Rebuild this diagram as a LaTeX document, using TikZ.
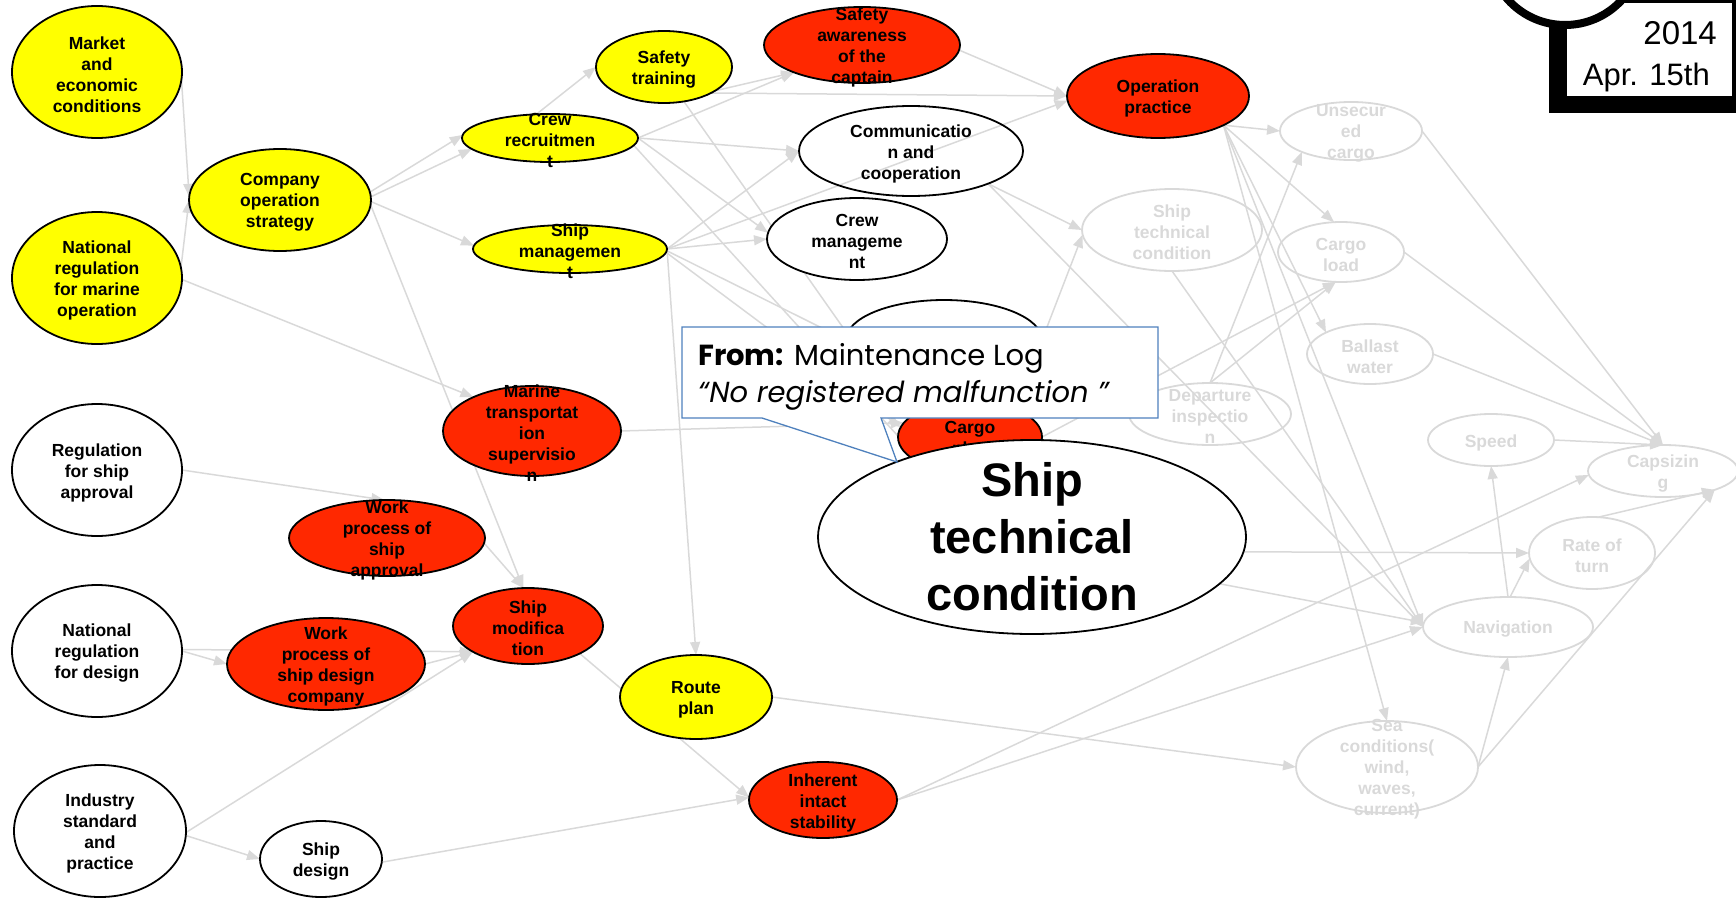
\documentclass[tikz,border=0pt]{standalone}
\usepackage{fontspec}
\setmainfont{Liberation Sans}
\newfontfamily\callfont{Poppins}
\usetikzlibrary{arrows.meta,shapes.geometric}
\pgfdeclarelayer{background}
\pgfsetlayers{background,main}

\definecolor{nodeyellow}{RGB}{255,255,0}
\definecolor{nodered}{RGB}{255,40,0}
\definecolor{edgegray}{RGB}{217,217,217}
\definecolor{calloutblue}{RGB}{79,129,189}

\tikzset{
  rr/.style 2 args={ellipse, inner sep=0pt, outer sep=0pt,
    minimum width={2*#1pt}, minimum height={2*#2pt}},
  bub/.style={draw=black, line width=1.8pt},
  yel/.style={bub, fill=nodeyellow},
  redn/.style={bub, fill=nodered},
  wht/.style={bub, fill=white},
  hol/.style={bub},
  gry/.style={draw=edgegray, line width=1.8pt},
  lbl/.style={align=center, inner sep=0pt, yshift=-2.5pt,
    font=\bfseries\fontsize{17.5}{21}\selectfont},
  glbl/.style={lbl, text=edgegray},
  link/.style={draw=edgegray, line width=1.5pt,
    -{Triangle[length=13pt,width=10pt]}},
}

\begin{document}
\begin{tikzpicture}[x=1pt,y=-1pt]
\useasboundingbox (0,0) rectangle (1736,899);

% ---------- left and middle causal factors ----------
\node[yel,rr={85}{66}] (mkt) at (97,72) {};
\node[lbl] (mkt-t) at (mkt) {Market\\and\\economic\\conditions};
\node[yel,rr={91}{51}] (cos) at (280,200) {};
\node[lbl] (cos-t) at (cos) {Company\\operation\\strategy};
\node[yel,rr={85}{66}] (nrm) at (97,278) {};
\node[lbl] (nrm-t) at (nrm) {National\\regulation\\for marine\\operation};
\node[wht,rr={85}{66}] (rsa) at (97,470) {};
\node[lbl] (rsa-t) at (rsa) {Regulation\\for ship\\approval};
\node[wht,rr={85}{66}] (nrd) at (97,651) {};
\node[lbl] (nrd-t) at (nrd) {National\\regulation\\for design};
\node[wht,rr={86}{66}] (isp) at (100,831) {};
\node[lbl] (isp-t) at (isp) {Industry\\standard\\and\\practice};
\node[wht,rr={61}{38}] (sd) at (321,859) {};
\node[lbl] (sd-t) at (sd) {Ship\\design};
\node[redn,rr={98}{38}] (wpa) at (387,538) {};
\node[lbl] (wpa-t) at (wpa) {Work\\process of\\ship\\approval};
\node[redn,rr={99}{46}] (wpd) at (326,664) {};
\node[lbl] (wpd-t) at (wpd) {Work\\process of\\ship design\\company};
\node[redn,rr={89}{45}] (mts) at (532,431) {};
\node[lbl] (mts-t) at (mts) {Marine\\transportat\\ion\\supervisio\\n};
\node[redn,rr={75}{38}] (smod) at (528,626) {};
\node[lbl] (smod-t) at (smod) {Ship\\modifica\\tion};
\node[yel,rr={76}{42}] (rp) at (696,697) {};
\node[lbl] (rp-t) at (rp) {Route\\plan};
\node[redn,rr={74}{38}] (iis) at (823,800) {};
\node[lbl] (iis-t) at (iis) {Inherent\\intact\\stability};
\node[yel,rr={88}{24}] (cr) at (550,138) {};
\node[lbl] (cr-t) at (cr) {Crew\\recruitmen\\t};
\node[yel,rr={97}{24}] (sm) at (570,249) {};
\node[lbl] (sm-t) at (sm) {Ship\\managemen\\t};
\node[yel,rr={68}{36}] (st) at (664,67) {};
\node[lbl] (st-t) at (st) {Safety\\training};
\node[redn,rr={98}{38}] (sac) at (862,45) {};
\node[lbl] (sac-t) at (sac) {Safety\\awareness\\of the\\captain};
\node[hol,rr={112}{45}] (cc) at (911,151) {};
\node[lbl] (cc-t) at (cc) {Communicatio\\n and\\cooperation};
\node[wht,rr={90}{41}] (cm) at (857,239) {};
\node[lbl] (cm-t) at (cm) {Crew\\manageme\\nt};
\node[wht,rr={98}{40}] (mlog) at (944,340) {};
\node[lbl, yshift=-6pt] (mlog-t) at (mlog) {Maintenan\\ce log};
\node[redn,rr={72}{36}] (cp) at (970,437) {};
\node[lbl] (cp-t) at (cp) {Cargo\\plan};
\node[redn,rr={91}{42}] (op) at (1158,96) {};
\node[lbl] (op-t) at (op) {Operation\\practice};

% ---------- faded right-hand part ----------
\node[gry,rr={90}{41}] (stc) at (1172,230) {};
\node[glbl] (stc-t) at (stc) {Ship\\technical\\condition};
\node[gry,rr={71}{29}] (uc) at (1351,131) {};
\node[glbl] (uc-t) at (uc) {Unsecur\\ed\\cargo};
\node[gry,rr={63}{30}] (cl) at (1341,252) {};
\node[glbl] (cl-t) at (cl) {Cargo\\load};
\node[gry,rr={63}{30}] (bw) at (1370,354) {};
\node[glbl] (bw-t) at (bw) {Ballast\\water};
\node[gry,rr={81}{31}] (di) at (1210,414) {};
\node[glbl] (di-t) at (di) {Departure\\inspectio\\n};
\node[gry,rr={63}{26}] (spd) at (1491,440) {};
\node[glbl] (spd-t) at (spd) {Speed};
\node[gry,rr={75}{26}] (cap) at (1663,471) {};
\node[glbl] (cap-t) at (cap) {Capsizin\\g};
\node[gry,rr={63}{36}] (rot) at (1592,553) {};
\node[glbl] (rot-t) at (rot) {Rate of\\turn};
\node[gry,rr={85}{30}] (nav) at (1508,627) {};
\node[glbl] (nav-t) at (nav) {Navigation};
\node[gry,rr={91}{46}] (sea) at (1387,767) {};
\node[glbl] (sea-t) at (sea) {Sea\\conditions(\\wind,\\waves,\\current)};

% ---------- enlarged focus node ----------
\node[wht,rr={214}{97}] (big) at (1032,537) {};
\node[align=center, inner sep=0pt, font=\bfseries\fontsize{47}{57}\selectfont]
  (big-t) at (big) {Ship\\technical\\condition};

% ---------- connectors ----------
\begin{pgfonlayer}{background}
\draw[link] (mkt.-5) -- (cos.178);
\draw[link] (nrm.7) -- (cos.180);
\draw[link] (nrm.-1) -- (mts.150);
\draw[link] (cos.5) -- (cr.178);
\draw[link] (cos.2) -- (cr.188);
\draw[link] (cos.-1) -- (sm.178);
\draw[link] (cos.-3) -- (smod.97);
\draw[link] (wpa.-3) -- (smod.97);
\draw[link] (rsa.0) -- (wpa.94);
\draw[link] (nrd.0) -- (wpd.180);
\draw[link] (nrd.1) -- (smod.205);
\draw[link] (wpd.0) -- (smod.205);
\draw[link] (isp.-1) -- (smod.205);
\draw[link] (isp.-3) -- (sd.180);
\draw[link] (sd.-3) -- (iis.178);
\draw[link] (smod.-28) -- (iis.178);
\draw[link] (sm.0) -- (rp.90);
\draw[link] (mts.0) -- (cp.168);
\draw[link] (sm.-2) -- (cp.172);
\draw[link] (sm.-1) -- (mlog.180);
\draw[link] (st.-60) -- (big.140);
\draw[link] (cr.-5) -- (big.145);
\draw[link] (rp.0) -- (sea.180);
\draw[link] (iis.0) -- (cap.183);
\draw[link] (iis.0) -- (nav.180);
\draw[link] (big.-4) -- (rot.180);
\draw[link] (big.-14) -- (nav.177);
\draw[link] (nav.90) -- (spd.270);
\draw[link] (nav.86) -- (rot.185);
\draw[link] (spd.0) -- (cap.90);
\draw[link] (rot.80) -- (cap.-20);
\draw[link] (sea.0) -- (nav.270);
\draw[link] (sea.0) -- (cap.-20);
\draw[link] (uc.0) -- (cap.90);
\draw[link] (cl.0) -- (cap.90);
\draw[link] (bw.0) -- (cap.90);
\draw[link] (op.-24) -- (uc.180);
\draw[link] (op.-24) -- (cl.103);
\draw[link] (op.-24) -- (bw.154);
\draw[link] (op.-24) -- (sea.90);
\draw[link] (op.-24) -- (nav.180);
\draw[link] (stc.270) -- (nav.180);
\draw[link] (cc.-23) -- (nav.180);
\draw[link] (cc.-23) -- (stc.180);
\draw[link] (di.90) -- (uc.203);
\draw[link] (di.90) -- (cl.260);
\draw[link] (cp.0) -- (cl.260);
\draw[link] (mlog.0) -- (stc.183);
\draw[link] (sac.-3) -- (op.180);
\draw[link] (st.-29) -- (op.180);
\draw[link] (st.-25) -- (sac.202);
\draw[link] (cr.120) -- (st.180);
\draw[link] (cr.0) -- (sac.202);
\draw[link] (cr.0) -- (cc.180);
\draw[link] (cr.0) -- (cm.176);
\draw[link] (sm.0) -- (cc.180);
\draw[link] (sm.0) -- (cm.180);
\draw[link] (sm.0) -- (op.183);
\end{pgfonlayer}

% ---------- callout ----------
\draw[draw=calloutblue, fill=white, line width=1.3pt]
  (682,327) -- (1158,327) -- (1158,418) -- (881,418) -- (897,462)
  -- (762,418) -- (682,418) -- cycle;
\node[anchor=base west, inner sep=0pt, font=\callfont\fontsize{29}{35}\selectfont]
  (from) at (698,365) {\textbf{From:} Maintenance Log};
\node[anchor=base west, inner sep=0pt, font=\callfont\itshape\fontsize{29}{35}\selectfont]
  (quote) at (698,402) {“No registered malfunction ”};

% ---------- date stamp ----------
\fill[black] (1549,-5) rectangle (1745,113);
\fill[white] (1567,3) rectangle (1732,96);
\draw[line width=8pt, fill=white] (1565,-52) circle (77);
\node[anchor=base east, inner sep=0pt, font=\fontsize{33}{38}\selectfont]
  (year) at (1717,45) {2014};
\node[anchor=base east, inner sep=0pt, font=\fontsize{31}{36}\selectfont]
  (day) at (1710,85) {Apr. 15th};
\end{tikzpicture}
\end{document}
